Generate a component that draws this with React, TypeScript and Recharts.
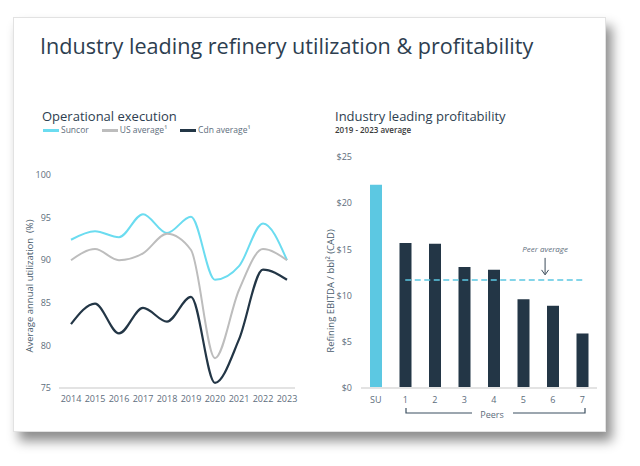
import React from 'react'
import {
  LineChart, Line, BarChart, Bar, Cell, XAxis, YAxis, ReferenceLine,
} from 'recharts'

const years = ['2014', '2015', '2016', '2017', '2018', '2019', '2020', '2021', '2022', '2023']
const suncor = [92.4, 93.4, 92.7, 95.4, 93.2, 95.1, 87.7, 89.3, 94.3, 90.0]
const usAverage = [90.0, 91.3, 90.0, 90.8, 93.1, 91.2, 78.5, 86.5, 91.3, 90.0]
const cdnAverage = [82.5, 84.9, 81.4, 84.4, 82.8, 85.7, 75.6, 80.7, 88.9, 87.7]
const utilTicks = [75, 80, 85, 90, 95, 100]

const peers = ['SU', '1', '2', '3', '4', '5', '6', '7']
const ebitda = [22.0, 15.7, 15.6, 13.1, 12.8, 9.6, 8.9, 5.9]
const peerAverage = 11.7
const ebitdaTicks = [0, 5, 10, 15, 20, 25]

const FONT = '"Open Sans", "Noto Sans", sans-serif'
const TEXT = '#2d3e50'
const TICK = '#5d6d7c'
const NAVY = '#233646'
const SKY = '#6bdcf0'
const SU_BLUE = '#5cc8e2'
const GREY = '#bdbdbd'

const lineData = years.map((y, i) => ({
  year: y,
  suncor: suncor[i],
  us: usAverage[i],
  cdn: cdnAverage[i],
}))

const series = [
  { key: 'suncor', name: 'Suncor', color: SKY, width: 2 },
  { key: 'us', name: 'US average¹', color: GREY, width: 2 },
  { key: 'cdn', name: 'Cdn average¹', color: NAVY, width: 2.2 },
]

const barData = peers.map((p, i) => ({ peer: p, value: ebitda[i] }))

function PeerLabel(props: any) {
  const vb = props.viewBox || {}
  const x = vb.x + (vb.width || 0) * 0.79
  const y = vb.y
  return (
    <g>
      <text x={x} y={y - 28} textAnchor="middle" fontSize={8} fontStyle="italic" fill={TICK} fontFamily={FONT}>
        Peer average
      </text>
      <line x1={x} y1={y - 22} x2={x} y2={y - 6} stroke="#3b4b5a" strokeWidth={1} />
      <path d={`M${x - 3.5},${y - 10} L${x},${y - 5} L${x + 3.5},${y - 10}`} fill="none" stroke="#3b4b5a" strokeWidth={1} />
    </g>
  )
}

const rotated = (left: number, top: number): React.CSSProperties => ({
  position: 'absolute', left, top, transform: 'translate(-50%, -50%) rotate(-90deg)',
  whiteSpace: 'nowrap', fontFamily: FONT, fontSize: 9.5, color: '#4a5c6d',
})

export default function App() {
  return (
    <div style={{ position: 'absolute', left: 0, top: 0, width: 640, height: 466, background: '#fff', overflow: 'hidden' }}>
      <div style={{
        position: 'absolute', left: 13, top: 17, width: 591, height: 413, background: '#fff',
        border: '1px solid #e2e2e2', boxShadow: '6px 9px 11px rgba(0,0,0,0.45)',
      }} />

      <div style={{ position: 'absolute', left: 40, top: 31, fontFamily: FONT, fontSize: 21.6, color: TEXT, whiteSpace: 'nowrap' }}>
        Industry leading refinery utilization &amp; profitability
      </div>

      {/* left: utilization */}
      <div style={{ position: 'absolute', left: 42, top: 107, fontFamily: FONT, fontSize: 13, color: TEXT, whiteSpace: 'nowrap' }}>
        Operational execution
      </div>
      <div style={{ position: 'absolute', left: 43, top: 124, display: 'flex', fontFamily: FONT, fontSize: 8.5, color: TICK, lineHeight: '12px', whiteSpace: 'nowrap' }}>
        {series.map((s) => (
          <div key={s.key} style={{ display: 'flex', alignItems: 'center', marginRight: 13 }}>
            <span style={{ display: 'inline-block', width: 16, height: 3, background: s.color, marginRight: 2 }} />
            <span>{s.name}</span>
          </div>
        ))}
      </div>
      <div style={rotated(29, 286)}>Average annual utilization&nbsp; (%)</div>
      <div style={{ position: 'absolute', left: 20, top: 100 }}>
        <LineChart width={290} height={320} data={lineData} margin={{ top: 75, right: 15, bottom: 2, left: 0 }}>
          <XAxis
            dataKey="year"
            stroke="#e3e3e3"
            strokeWidth={2}
            tickLine={false}
            tickSize={0}
            tickMargin={8}
            height={30}
            padding={{ left: 12, right: 8 }}
            tick={{ fontSize: 9, fill: TICK, fontFamily: FONT }}
            interval={0}
          />
          <YAxis
            domain={[75, 100]}
            ticks={utilTicks}
            axisLine={false}
            tickLine={false}
            tickSize={0}
            tickMargin={8}
            width={39}
            tick={{ fontSize: 9, fill: TICK, fontFamily: FONT }}
          />
          {series.map((s) => (
            <Line
              key={s.key}
              type="monotone"
              dataKey={s.key}
              name={s.name}
              stroke={s.color}
              strokeWidth={s.width}
              dot={false}
              isAnimationActive={false}
            />
          ))}
        </LineChart>
      </div>

      {/* right: profitability */}
      <div style={{ position: 'absolute', left: 335, top: 107, fontFamily: FONT, fontSize: 13, color: TEXT, whiteSpace: 'nowrap' }}>
        Industry leading profitability
      </div>
      <div style={{ position: 'absolute', left: 335, top: 124, fontFamily: FONT, fontSize: 8, fontWeight: 600, color: '#3a3a3a', whiteSpace: 'nowrap' }}>
        2019 - 2023 average
      </div>
      <div style={rotated(330, 291)}>Refining EBITDA / bbl² (CAD)</div>
      <div style={{ position: 'absolute', left: 320, top: 140 }}>
        <BarChart width={290} height={280} data={barData} margin={{ top: 17, right: 13, bottom: 2, left: 0 }}>
          <XAxis
            dataKey="peer"
            stroke="#e3e3e3"
            strokeWidth={2}
            tickLine={false}
            tickSize={0}
            tickMargin={9}
            height={30}
            tick={{ fontSize: 9, fill: TICK, fontFamily: FONT }}
            interval={0}
          />
          <YAxis
            domain={[0, 25]}
            ticks={ebitdaTicks}
            axisLine={false}
            tickLine={false}
            tickSize={0}
            tickMargin={9}
            width={41}
            tickFormatter={(v) => `$${v}`}
            tick={{ fontSize: 9, fill: TICK, fontFamily: FONT }}
          />
          <Bar dataKey="value" barSize={12} isAnimationActive={false}>
            {barData.map((d) => (
              <Cell key={d.peer} fill={d.peer === 'SU' ? SU_BLUE : NAVY} />
            ))}
          </Bar>
          <ReferenceLine
            segment={[{ x: '1', y: peerAverage }, { x: '7', y: peerAverage }]}
            stroke={SU_BLUE}
            strokeWidth={1.5}
            strokeDasharray="6 3.5"
            label={<PeerLabel />}
          />
        </BarChart>
      </div>

      {/* peers bracket */}
      <svg style={{ position: 'absolute', left: 0, top: 0 }} width={640} height={466}>
        <path d="M406,408 L406,413 L472,413" fill="none" stroke="#3b4f60" strokeWidth={1.2} />
        <path d="M513,413 L585,413 L585,408" fill="none" stroke="#3b4f60" strokeWidth={1.2} />
        <text x={492} y={418} textAnchor="middle" fontSize={9} fill={TICK} fontFamily={FONT}>Peers</text>
      </svg>
    </div>
  )
}
